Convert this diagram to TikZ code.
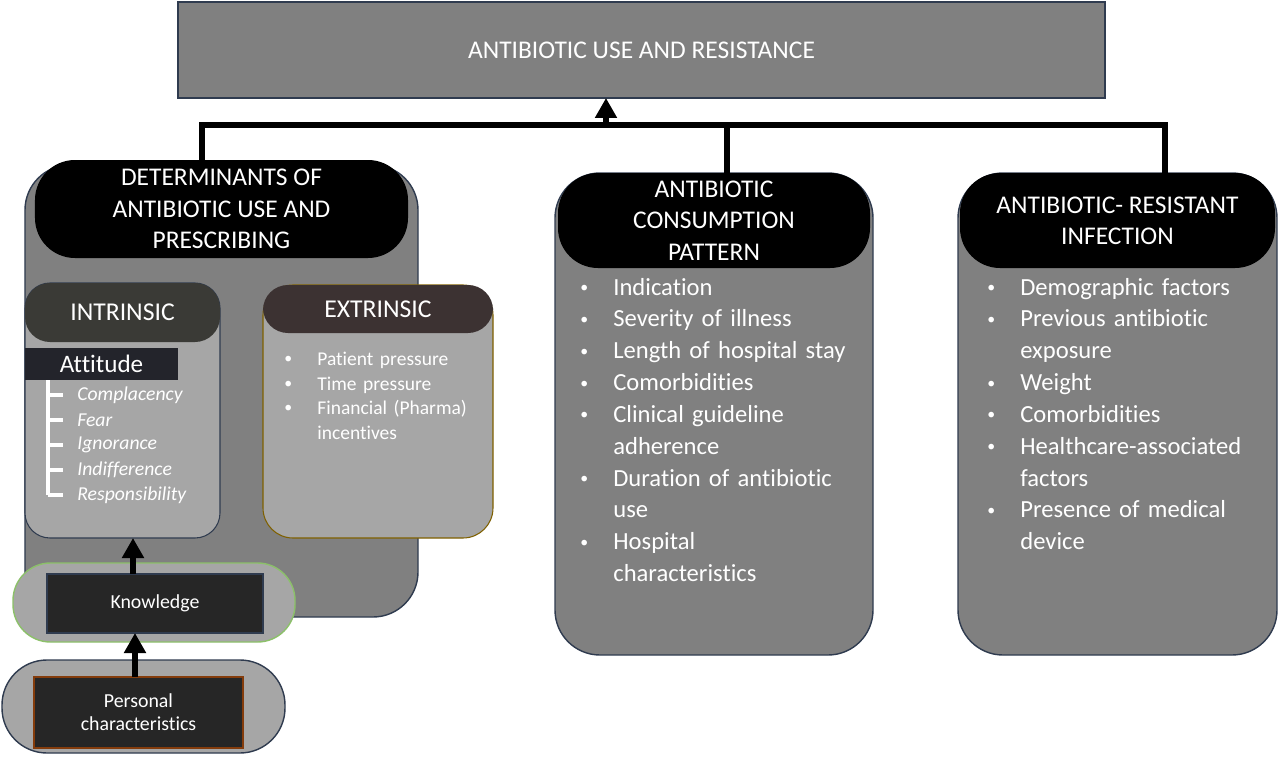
\documentclass[tikz,border=0pt]{standalone}
\usepackage{fontspec}
\setmainfont{Carlito}[Ligatures=NoCommon]
\usepackage{enumitem}
\usetikzlibrary{arrows.meta}
\definecolor{boxgray}{HTML}{808080}
\definecolor{cardgray}{HTML}{A6A6A6}
\definecolor{edgenavy}{HTML}{2F3B4F}
\definecolor{headdark}{HTML}{3A3A36}
\definecolor{headbrown}{HTML}{3C3232}
\definecolor{edgebrown}{HTML}{7F6000}
\definecolor{barblack}{HTML}{23242B}
\definecolor{inkblack}{HTML}{262626}
\definecolor{edgegreen}{HTML}{8CC06A}
\definecolor{edgerust}{HTML}{843C0C}
\setlist[itemize]{label=\raisebox{0.1em}{\small\textbullet},leftmargin=0.6cm,labelwidth=0.1cm,labelsep=0.5cm,itemsep=0pt,parsep=0pt,topsep=0pt}
\tikzset{goalbox/.style={draw=edgenavy,line width=0.8pt,fill=boxgray,text=white,inner sep=0pt,outer sep=0pt,font=\fontsize{14.5}{17}\selectfont}}
\tikzset{panel/.style={draw=edgenavy,line width=0.8pt,fill=boxgray,rounded corners=0.9cm,inner sep=0pt,outer sep=0pt}}
\tikzset{pill/.style={fill=black,rounded corners=0.8cm,text=white,align=center,inner sep=0pt,outer sep=0pt,font=\fontsize{14.5}{17.8}\selectfont}}
\tikzset{card/.style={draw=edgenavy,line width=0.6pt,fill=cardgray,rounded corners=0.5cm,inner sep=0pt,outer sep=0pt}}
\tikzset{cardhead/.style={fill=headdark,rounded corners=0.5cm,text=white,inner sep=0pt,outer sep=0pt,font=\fontsize{14.6}{17}\selectfont}}
\tikzset{attbar/.style={fill=barblack,text=white,inner sep=0pt,outer sep=0pt,font=\fontsize{14.3}{17}\selectfont}}
\tikzset{attitem/.style={anchor=west,text=white,inner sep=0pt,font=\itshape\fontsize{11.2}{13}\selectfont}}
\tikzset{capsule/.style={fill=cardgray,line width=0.8pt,inner sep=0pt,outer sep=0pt}}
\tikzset{inkbox/.style={draw=edgenavy,line width=0.6pt,fill=inkblack,text=white,align=center,inner sep=0pt,outer sep=0pt,font=\fontsize{11.3}{13}\selectfont}}
\tikzset{bulletlist/.style={anchor=north west,inner sep=0pt,text=white,text width=5.8cm,align=left,font=\fontsize{14}{18.1}\selectfont}}
\tikzset{bus/.style={line width=3pt}}
\tikzset{uparrow/.style={line width=3.4pt,-{Triangle[length=0.4cm,width=0.42cm]}}}
\tikzset{bracket/.style={white,line width=2.3pt}}
\begin{document}
\begin{tikzpicture}
	\useasboundingbox (0,0) rectangle (25.6,15.14);
	\node[goalbox,minimum width=18.54cm,minimum height=1.92cm] (goal) at (12.83,14.14) {ANTIBIOTIC USE AND RESISTANCE};

	\node[panel,minimum width=7.86cm,minimum height=9.04cm] (detpanel) at (4.43,7.32) {};
	\node[panel,minimum width=6.36cm,minimum height=9.64cm] (conspanel) at (14.28,6.86) {};
	\node[panel,minimum width=6.38cm,minimum height=9.64cm] (respanel) at (22.35,6.86) {};

	\node[pill,minimum width=7.46cm,minimum height=1.96cm] (detpill) at (4.43,10.96) {DETERMINANTS OF\\ANTIBIOTIC USE AND\\PRESCRIBING};
	\node[pill,minimum width=6.24cm,minimum height=1.90cm] (conspill) at (14.28,10.73) {ANTIBIOTIC\\CONSUMPTION\\PATTERN};
	\node[pill,minimum width=6.30cm,minimum height=1.90cm] (respill) at (22.35,10.73) {ANTIBIOTIC- RESISTANT\\INFECTION};

	\coordinate (busL) at (4.04,12.64);
	\coordinate (busM) at (12.12,12.64);
	\coordinate (busC) at (14.54,12.64);
	\coordinate (busR) at (23.30,12.64);
	\draw[bus] (detpill.north -| busL) -- (busL) -- (busR) -- (respill.north -| busR);
	\draw[bus] (busC) -- (conspill.north -| busC);
	\draw[uparrow] (busM) -- (goal.south -| busM);

	\node[card,minimum width=3.90cm,minimum height=5.10cm] (intrcard) at (2.45,6.93) {};
	\node[cardhead,minimum width=3.90cm,minimum height=1.18cm] (intrhead) at (2.45,8.89) {INTRINSIC};
	\node[card,draw=edgebrown,rounded corners=0.6cm,minimum width=4.60cm,minimum height=5.06cm] (extrcard) at (7.56,6.91) {};
	\node[cardhead,fill=headbrown,minimum width=4.60cm,minimum height=0.96cm] (extrhead) at (7.56,8.96) {EXTRINSIC};
	\node[attbar,minimum width=3.06cm,minimum height=0.64cm] (attitude) at (2.03,7.86) {Attitude};

	\coordinate (brk) at (0.96,7.54);
	\foreach \w [count=\k from 0] in {Complacency,Fear,Ignorance,Indifference,Responsibility}{
		\node[attitem] (att\k) at (1.54,7.24-0.5*\k) {\w};
		\draw[bracket] (brk |- att\k.west) -- ++(0.3,0);
	}
	\draw[bracket] (attitude.south -| brk) -- (brk |- att4.west);

	\node[bulletlist,text width=4cm,font=\fontsize{11.1}{13.9}\selectfont] (extrlist) at (5.74,8.32) {\begin{itemize}
		\item Patient pressure
		\item Time pressure
		\item Financial (Pharma)\newline incentives
	\end{itemize}};
	\node[bulletlist] (conslist) at (11.66,9.88) {\begin{itemize}
		\item Indication
		\item Severity of illness
		\item Length of hospital stay
		\item Comorbidities
		\item Clinical guideline\newline adherence
		\item Duration of antibiotic\newline use
		\item Hospital\newline characteristics
	\end{itemize}};
	\node[bulletlist] (reslist) at (19.80,9.88) {\begin{itemize}
		\item Demographic factors
		\item Previous antibiotic\newline exposure
		\item Weight
		\item Comorbidities
		\item Healthcare-associated\newline factors
		\item Presence of medical\newline device
	\end{itemize}};

	\node[capsule,draw=edgegreen,rounded corners=0.75cm,minimum width=5.64cm,minimum height=1.58cm] (knowcap) at (3.08,3.09) {};
	\node[inkbox,minimum width=4.32cm,minimum height=1.18cm] (knowledge) at (3.10,3.07) {Knowledge};
	\node[capsule,draw=edgenavy,rounded corners=0.9cm,minimum width=5.66cm,minimum height=1.86cm] (perscap) at (2.87,1.01) {};
	\node[inkbox,draw=edgerust,minimum width=4.18cm,minimum height=1.42cm] (personal) at (2.77,0.89) {Personal\\characteristics};
	\coordinate (upA) at (2.66,0);
	\coordinate (upB) at (2.70,0);
	\draw[uparrow] (knowledge.north -| upA) -- (intrcard.south -| upA);
	\draw[uparrow] (personal.north -| upB) -- (knowledge.south -| upB);
\end{tikzpicture}
\end{document}
